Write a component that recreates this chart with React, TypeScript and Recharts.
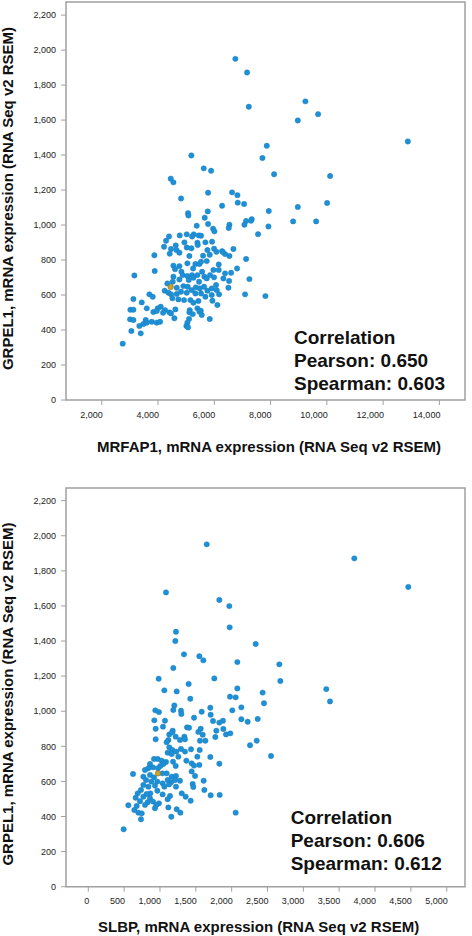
import React from "react";
import {
  ScatterChart,
  Scatter,
  XAxis,
  YAxis,
  ReferenceArea,
  Label,
} from "recharts";

// top panel: MRFAP1 vs GRPEL1 (RSEM)
const mrfap1 = [
  7865, 5186, 7711, 5625, 5886, 8125, 4452, 4547, 5779, 6632, 6822, 4819, 6834, 7059, 6277, 5767,
  7936, 5068, 5080, 5660, 7331, 7130, 5779, 7070, 5376, 5957, 6537, 6514, 7924, 6004, 7556, 4392,
  4772, 5021, 5269, 5447, 5530, 5210, 4286, 4938, 5400, 5684, 5921, 4215, 4630, 4464, 5021, 5186,
  5412, 5755, 5992, 6075, 6277, 6383, 6680, 4653, 4416, 4760, 3871, 5115, 5601, 5838, 6537, 7130,
  5731, 6158, 4547, 4760, 5044, 5329, 5471, 5530, 5246, 3883, 4606, 4831, 4878, 5044, 5210, 5400,
  5566, 5649, 5850, 5969, 6158, 6383, 6597, 6810, 3160, 4547, 4523, 4760, 5092, 5258, 5459, 5731,
  5992, 6063, 6324, 6526, 6502, 7248, 4333, 4238, 4369, 4665, 4902, 5056, 5198, 5341, 5483, 5637,
  5755, 5909, 6087, 5909, 4665, 4464, 4819, 5020, 5329, 5530, 5684, 6170, 7094, 7817, 3125, 3693,
  3812, 4511, 4725, 4926, 5151, 5258, 5436, 5933, 6111, 3421, 3600, 4096, 3989, 4250, 4404, 4618,
  5127, 5400, 5518, 3018, 3125, 3836, 3954, 4179, 4464, 5115, 5234, 5471, 5554, 3006, 3125, 3563,
  3776, 3954, 4073, 3480, 3338, 3599, 4582, 5103, 5044, 5838, 5009, 5068, 3053, 3385, 2745, 6749,
  7165, 7226, 9238, 9689, 8968, 12878, 10116, 10010, 8968, 8801, 9619, 7306, 6300,
];
const grpel1Top = [
  1453, 1398, 1383, 1324, 1310, 1290, 1265, 1244, 1185, 1187, 1171, 1152, 1128, 1120, 1110, 1078,
  1080, 1068, 1055, 1042, 1034, 1023, 1006, 1002, 996, 979, 1002, 983, 992, 964, 948, 935,
  941, 947, 947, 941, 939, 935, 910, 901, 899, 901, 905, 876, 884, 863, 872, 867,
  886, 857, 865, 847, 851, 834, 863, 857, 836, 842, 827, 823, 825, 830, 823, 806,
  794, 775, 768, 765, 781, 777, 777, 790, 752, 737, 748, 733, 714, 709, 714, 714,
  733, 705, 714, 743, 743, 724, 727, 752, 712, 705, 676, 689, 686, 699, 676, 695,
  701, 657, 695, 680, 642, 691, 666, 625, 613, 642, 651, 647, 628, 644, 638, 647,
  625, 638, 628, 600, 606, 604, 619, 613, 609, 609, 590, 604, 604, 594, 577, 604,
  590, 581, 575, 571, 571, 556, 566, 567, 543, 558, 524, 533, 524, 514, 501, 518,
  514, 524, 510, 516, 516, 503, 509, 499, 495, 501, 491, 505, 486, 461, 457, 457,
  447, 442, 447, 434, 423, 442, 467, 463, 442, 463, 423, 415, 394, 381, 322, 1950,
  1872, 1676, 1707, 1634, 1598, 1478, 1280, 1126, 1103, 1021, 1021, 1025, 846,
];

// bottom panel: SLBP vs GRPEL1 (RSEM)
const slbp = [
  1214, 2335, 1335, 1549, 1605, 2079, 1186, 982, 1400, 1758, 1061, 1233, 2079, 1423, 1977, 2056,
  2432, 2451, 1200, 1186, 935, 986, 1293, 1298, 1582, 1702, 1707, 2009, 2135, 1475, 921, 1070,
  1740, 1828, 1879, 2135, 2223, 2363, 1042, 940, 1177, 1377, 1405, 1568, 1596, 1535, 1786, 1884,
  1772, 1921, 1981, 1130, 1172, 1219, 1279, 1340, 1349, 1558, 1633, 1117, 1093, 940, 1130, 1172,
  1107, 1163, 1228, 1293, 1349, 1433, 1554, 2256, 2349, 2549, 1256, 1368, 1521, 1702, 917, 968,
  1024, 1084, 1047, 1005, 972, 903, 861, 838, 791, 1182, 1219, 1442, 1475, 1549, 1828, 1442,
  624, 768, 861, 917, 1033, 1093, 1163, 1223, 1489, 805, 879, 963, 1037, 1107, 1154, 1210,
  1279, 768, 838, 930, 1061, 1126, 1223, 1456, 1465, 1609, 1619, 735, 865, 963, 1037, 689,
  814, 768, 861, 661, 721, 828, 903, 986, 1140, 1107, 1303, 1358, 1428, 1707, 1833, 559,
  675, 791, 949, 642, 698, 745, 930, 1117, 1233, 1284, 2056, 735, 1158, 493, 1652, 1084,
  1828, 1967, 1972, 1223, 3711, 4464, 2665, 2679, 3320, 3372,
];
const grpel1Bottom = [
  1400, 1383, 1324, 1313, 1290, 1280, 1246, 1185, 1155, 1187, 1119, 1113, 1130, 1071, 1083, 1079,
  1106, 1045, 1033, 1007, 1005, 995, 1003, 984, 997, 1020, 980, 1005, 1022, 963, 948, 946,
  944, 935, 946, 954, 940, 956, 912, 900, 889, 908, 906, 900, 866, 882, 889, 899,
  853, 868, 874, 868, 880, 855, 836, 855, 840, 832, 832, 836, 823, 840, 794, 779,
  764, 756, 770, 785, 770, 783, 779, 806, 832, 745, 741, 718, 741, 739, 728, 728,
  718, 711, 699, 688, 675, 680, 699, 675, 665, 712, 688, 703, 690, 694, 701, 657,
  642, 627, 637, 623, 646, 646, 627, 631, 631, 608, 599, 599, 589, 608, 595, 608,
  604, 580, 570, 576, 570, 583, 570, 585, 568, 604, 551, 551, 532, 547, 526, 532,
  528, 513, 504, 507, 487, 481, 485, 475, 517, 498, 532, 513, 490, 521, 523, 464,
  460, 466, 466, 437, 422, 418, 447, 452, 441, 422, 422, 384, 399, 327, 1951, 1677,
  1634, 1599, 1478, 1453, 1871, 1708, 1267, 1172, 1126, 1056,
];

// the highlighted sample
const highlightTop = { x: 4452, y: 646 };
const highlightBottom = { x: 972, y: 646 };

const yTicks = [0, 200, 400, 600, 800, 1000, 1200, 1400, 1600, 1800, 2000, 2200];
const mrfap1Ticks = [2000, 4000, 6000, 8000, 10000, 12000, 14000];
const slbpTicks = [0, 500, 1000, 1500, 2000, 2500, 3000, 3500, 4000, 4500, 5000];

const topStats = ["Correlation", "Pearson: 0.650", "Spearman: 0.603"];
const bottomStats = ["Correlation", "Pearson: 0.606", "Spearman: 0.612"];

const FONT = '"Liberation Sans", Arial, Helvetica, sans-serif';
const GRID = "#a0a0a0";

const fmt = (v: number) => v.toLocaleString("en-US");

const BlueDot = (props: any) => (
  <circle cx={props.cx} cy={props.cy} r={2.7} fill="#1E90D6" stroke="#1679BC" strokeWidth={0.4} />
);
const GoldDot = (props: any) => (
  <circle cx={props.cx} cy={props.cy} r={2.7} fill="#C9A233" stroke="#8C6F1C" strokeWidth={0.6} />
);

const XTick = (props: any) => (
  <text
    x={props.x + 1}
    y={props.y}
    dy="0.71em"
    textAnchor="end"
    fontSize={9}
    fill="#222"
    fontFamily={FONT}
  >
    {fmt(props.payload.value)}
  </text>
);

type PanelProps = {
  xs: number[];
  ys: number[];
  hl: { x: number; y: number };
  xDomain: [number, number];
  yDomain: [number, number];
  xTicks: number[];
  xTitle: string;
  top: number;
  marginTop: number;
  xAxisHeight: number;
  tickMargin: number;
  titleDx: number;
  titleDy: number;
  yTitleCy: number;
  stats: string[];
  statsX: number;
  statsY: number;
};

function Panel(p: PanelProps) {
  const points = p.xs.map((x, i) => ({ x, y: p.ys[i] }));
  return (
    <div style={{ position: "absolute", left: 0, top: p.top, width: 472, height: 468 }}>
      <ScatterChart
        width={472}
        height={468}
        margin={{ top: p.marginTop, right: 7, bottom: 0, left: 0 }}
      >
        <XAxis
          type="number"
          dataKey="x"
          domain={p.xDomain}
          ticks={p.xTicks}
          interval={0}
          allowDataOverflow
          height={p.xAxisHeight}
          axisLine={false}
          tickLine={{ stroke: GRID }}
          tickSize={5}
          tickMargin={p.tickMargin}
          tick={<XTick />}
        >
          <Label
            content={(lp: any) => (
              <text
                x={lp.viewBox.x + p.titleDx}
                y={lp.viewBox.y + p.titleDy}
                fontSize={15}
                fontWeight="bold"
                fill="#111"
                fontFamily={FONT}
              >
                {p.xTitle}
              </text>
            )}
          />
        </XAxis>
        <YAxis
          type="number"
          dataKey="y"
          domain={p.yDomain}
          ticks={yTicks}
          interval={0}
          allowDataOverflow
          width={66}
          axisLine={false}
          tickLine={{ stroke: GRID }}
          tickSize={5}
          tickMargin={5}
          tickFormatter={fmt}
          tick={{ fontSize: 9, fill: "#222", fontFamily: FONT }}
        >
          <Label
            content={() => (
              <text
                x={13}
                y={p.yTitleCy}
                transform={`rotate(-90, 13, ${p.yTitleCy})`}
                textAnchor="middle"
                fontSize={15}
                fontWeight="bold"
                fill="#111"
                fontFamily={FONT}
              >
                GRPEL1, mRNA expression (RNA Seq v2 RSEM)
              </text>
            )}
          />
        </YAxis>
        <ReferenceArea
          x1={p.xDomain[0]}
          x2={p.xDomain[1]}
          y1={p.yDomain[0]}
          y2={p.yDomain[1]}
          fill="none"
          stroke={GRID}
          strokeWidth={1.5}
          ifOverflow="visible"
        />
        <Scatter data={points} shape={<BlueDot />} isAnimationActive={false} />
        <Scatter data={[p.hl]} shape={<GoldDot />} isAnimationActive={false} />
      </ScatterChart>
      <svg
        width={472}
        height={468}
        style={{ position: "absolute", left: 0, top: 0, pointerEvents: "none" }}
      >
        {p.stats.map((s, i) => (
          <text
            key={s}
            x={p.statsX}
            y={p.statsY + i * 23.3}
            fontSize={19}
            fontWeight="bold"
            fill="#111"
            fontFamily={FONT}
          >
            {s}
          </text>
        ))}
      </svg>
    </div>
  );
}

export default function App() {
  return (
    <div
      style={{
        position: "absolute",
        left: 0,
        top: 0,
        width: 472,
        height: 936,
        background: "#fff",
        fontFamily: FONT,
      }}
    >
      <Panel
        xs={mrfap1}
        ys={grpel1Top}
        hl={highlightTop}
        xDomain={[730, 14910]}
        yDomain={[0, 2275]}
        xTicks={mrfap1Ticks}
        xTitle="MRFAP1, mRNA expression (RNA Seq v2 RSEM)"
        top={0}
        marginTop={2}
        xAxisHeight={68}
        tickMargin={7}
        titleDx={31}
        titleDy={51.7}
        yTitleCy={198.5}
        stats={topStats}
        statsX={294}
        statsY={343.5}
      />
      <Panel
        xs={slbp}
        ys={grpel1Bottom}
        hl={highlightBottom}
        xDomain={[-311, 5255]}
        yDomain={[0, 2272]}
        xTicks={slbpTicks}
        xTitle="SLBP, mRNA expression (RNA Seq v2 RSEM)"
        top={468}
        marginTop={20}
        xAxisHeight={49.3}
        tickMargin={6}
        titleDx={32}
        titleDy={45}
        yTitleCy={226}
        stats={bottomStats}
        statsX={290.7}
        statsY={355.7}
      />
    </div>
  );
}
